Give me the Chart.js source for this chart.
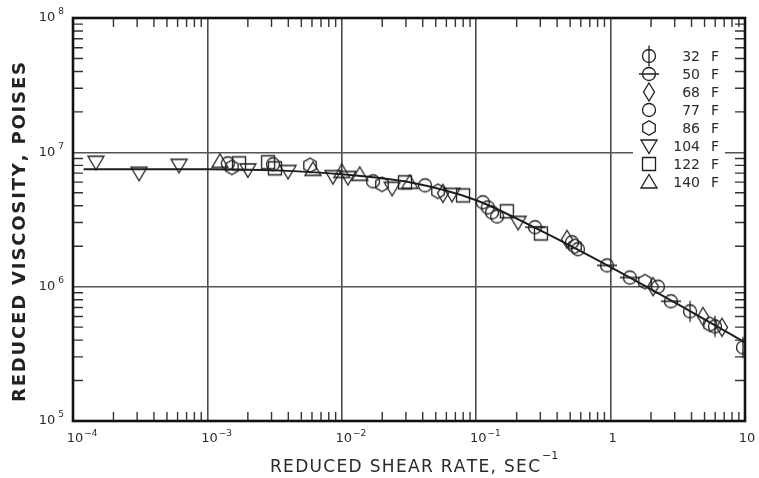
<!DOCTYPE html>
<html>
<head>
<meta charset="utf-8">
<script src="https://cdn.jsdelivr.net/npm/chart.js@4.4.1/dist/chart.umd.min.js"></script>
<style>
  html, body { margin: 0; padding: 0; background: #fff; }
  #wrap { width: 759px; height: 478px; }
</style>
</head>
<body>
<div id="wrap"><canvas id="viscChart" width="759" height="478"></canvas></div>
<script>
// Reduced shear rate (1/sec) and reduced viscosity (poises) for each test temperature (F)
const temps = ['32', '50', '68', '77', '86', '104', '122', '140'];

const rate32 = [3.9, 5.98, 9.66];
const visc32 = [6.55e5, 5.06e5, 3.53e5];

const rate50 = [0.274, 0.94, 1.39, 2.81];
const visc50 = [2.77e6, 1.44e6, 1.17e6, 7.78e5];

const rate68 = [0.0566, 0.474, 2.07, 4.87, 6.74];
const visc68 = [4.95e6, 2.25e6, 1.0e6, 6.0e5, 4.98e5];

const rate77 = [1.42e-3, 3.08e-3, 1.71e-2, 4.16e-2, 0.112, 0.122, 0.131, 0.143, 0.516, 0.571, 2.25];
const visc77 = [8.28e6, 8.15e6, 6.08e6, 5.68e6, 4.25e6, 3.89e6, 3.57e6, 3.33e6, 2.14e6, 1.9e6, 1.0e6];

const rate86 = [1.52e-3, 5.8e-3, 1.99e-2, 5.2e-2, 0.543, 1.8, 5.5];
const visc86 = [7.73e6, 8.0e6, 5.78e6, 5.13e6, 2.0e6, 1.09e6, 5.24e5];

const rate104 = [1.48e-4, 3.1e-4, 6.15e-4, 2.0e-3, 3.98e-3, 8.6e-3, 1.11e-2, 2.37e-2, 6.6e-2, 0.205];
const visc104 = [8.43e6, 6.98e6, 8.0e6, 7.4e6, 7.2e6, 6.6e6, 6.5e6, 5.4e6, 4.86e6, 3.01e6];

const rate122 = [1.72e-3, 2.83e-3, 3.18e-3, 2.95e-2, 7.98e-2, 0.169, 0.303];
const visc122 = [8.28e6, 8.43e6, 7.6e6, 5.98e6, 4.78e6, 3.64e6, 2.49e6];

const rate140 = [1.24e-3, 6.1e-3, 1.0e-2, 1.36e-2, 3.2e-2];
const visc140 = [8.57e6, 7.47e6, 7.2e6, 6.86e6, 5.98e6];

// master curve drawn through the points
const fitRate = [1.2e-4, 1e-3, 3.2e-3, 1e-2, 3.2e-2, 0.1, 0.31, 1.04, 3.28, 10];
const fitVisc = [7.47e6, 7.47e6, 7.34e6, 6.86e6, 5.98e6, 4.4e6, 2.58e6, 1.37e6, 7.26e5, 3.85e5];

// decade ticks and their labels as [base, exponent]
const xTickVals = [1e-4, 1e-3, 1e-2, 1e-1, 1, 10];
const xTickLabels = [['10', '\u22124'], ['10', '\u22123'], ['10', '\u22122'], ['10', '\u22121'], ['1', ''], ['10', '']];
const yTickVals = [1e5, 1e6, 1e7, 1e8];
const yTickLabels = [['10', '5'], ['10', '6'], ['10', '7'], ['10', '8']];

const INK = '#1e1e1e';
const FONT = '"DejaVu Sans", "Liberation Sans", sans-serif';

// open marker symbols drawn onto small canvases
function makeMarker(kind) {
  const c = document.createElement('canvas');
  c.width = 24; c.height = 24;
  const g = c.getContext('2d');
  g.strokeStyle = INK;
  g.lineWidth = 1.3;
  g.translate(12, 12);
  g.beginPath();
  if (kind === 'circleV' || kind === 'circleH' || kind === 'circle') {
    g.arc(0, 0, 6.5, 0, Math.PI * 2);
    if (kind === 'circleV') { g.moveTo(0, -10.5); g.lineTo(0, 10.5); }
    if (kind === 'circleH') { g.moveTo(-10, 0); g.lineTo(10, 0); }
  } else if (kind === 'diamond') {
    g.moveTo(0, -9); g.lineTo(5.5, 0); g.lineTo(0, 9); g.lineTo(-5.5, 0); g.closePath();
  } else if (kind === 'hexagon') {
    for (let i = 0; i < 6; i++) {
      const a = Math.PI / 2 + i * Math.PI / 3;
      const px = 7.2 * Math.cos(a), py = 7.2 * Math.sin(a);
      if (i === 0) g.moveTo(px, py); else g.lineTo(px, py);
    }
    g.closePath();
  } else if (kind === 'triDown') {
    g.moveTo(-8, -6); g.lineTo(8, -6); g.lineTo(0, 7.5); g.closePath();
  } else if (kind === 'square') {
    g.rect(-6.5, -6.5, 13, 13);
  } else if (kind === 'triUp') {
    g.moveTo(0, -7.5); g.lineTo(8, 6); g.lineTo(-8, 6); g.closePath();
  }
  g.stroke();
  return c;
}

const markerKinds = ['circleV', 'circleH', 'diamond', 'circle', 'hexagon', 'triDown', 'square', 'triUp'];
const markers = markerKinds.map(makeMarker);

const series = [
  [rate32, visc32], [rate50, visc50], [rate68, visc68], [rate77, visc77],
  [rate86, visc86], [rate104, visc104], [rate122, visc122], [rate140, visc140]
];

const datasets = series.map(([xs, ys], i) => ({
  label: temps[i] + ' F',
  data: xs.map((x, j) => ({ x: x, y: ys[j] })),
  pointStyle: markers[i],
  pointRadius: 8,
  pointHoverRadius: 8,
  showLine: false
}));

datasets.push({
  label: 'master curve',
  data: fitRate.map((x, j) => ({ x: x, y: fitVisc[j] })),
  showLine: true,
  borderColor: INK,
  borderWidth: 2,
  pointRadius: 0,
  tension: 0.3
});

// text drawn with even spacing between letters
function drawSpaced(ctx, text, x, y, width) {
  const chars = [...text];
  const widths = chars.map(ch => ctx.measureText(ch).width);
  const total = widths.reduce((a, b) => a + b, 0);
  const gap = (width - total) / (chars.length - 1);
  let cx = x;
  chars.forEach((ch, i) => {
    ctx.fillText(ch, cx, y);
    cx += widths[i] + gap;
  });
}

const paperPlot = {
  id: 'paperPlot',
  afterDraw(chart) {
    const ctx = chart.ctx;
    const area = chart.chartArea;
    const xs = chart.scales.x, ys = chart.scales.y;
    ctx.save();

    // minor ticks on all four sides, pointing inward
    ctx.strokeStyle = '#333';
    ctx.lineWidth = 1.4;
    ctx.beginPath();
    const factors = [2, 3, 4, 5, 6, 7, 8, 9];
    xTickVals.slice(0, -1).forEach(d => {
      factors.forEach(k => {
        const px = xs.getPixelForValue(d * k);
        ctx.moveTo(px, area.bottom); ctx.lineTo(px, area.bottom - 9);
        ctx.moveTo(px, area.top); ctx.lineTo(px, area.top + 9);
      });
    });
    yTickVals.slice(0, -1).forEach(d => {
      factors.forEach(k => {
        const py = ys.getPixelForValue(d * k);
        ctx.moveTo(area.left, py); ctx.lineTo(area.left + 10, py);
        ctx.moveTo(area.right, py); ctx.lineTo(area.right - 10, py);
      });
    });
    ctx.stroke();

    // frame
    ctx.strokeStyle = '#111';
    ctx.lineWidth = 2.6;
    ctx.strokeRect(area.left, area.top, area.right - area.left, area.bottom - area.top);

    // tick labels
    ctx.fillStyle = '#2a2a2a';
    ctx.textBaseline = 'middle';
    xTickVals.forEach((v, i) => {
      const [base, exp] = xTickLabels[i];
      const px = xs.getPixelForValue(v);
      ctx.font = '13px ' + FONT;
      const bw = ctx.measureText(base).width;
      ctx.textAlign = 'left';
      ctx.fillText(base, px - bw / 2 + 2, area.bottom + 18);
      if (exp) {
        ctx.font = '9px ' + FONT;
        ctx.fillText(exp, px + bw / 2 + 3, area.bottom + 13);
      }
    });
    yTickVals.forEach((v, i) => {
      const [base, exp] = yTickLabels[i];
      const py = ys.getPixelForValue(v);
      ctx.font = '9px ' + FONT;
      const ew = ctx.measureText(exp).width;
      ctx.textAlign = 'right';
      ctx.fillText(exp, area.left - 9, py - 6);
      ctx.font = '13px ' + FONT;
      ctx.fillText(base, area.left - 12 - ew, py);
    });

    // axis titles
    ctx.textAlign = 'left';
    ctx.font = '17px ' + FONT;
    ctx.fillStyle = '#2a2a2a';
    drawSpaced(ctx, 'REDUCED SHEAR RATE, SEC', 270, 468, 270);
    ctx.font = '11px ' + FONT;
    ctx.fillText('\u22121', 542, 456);

    ctx.save();
    ctx.translate(20, 402);
    ctx.rotate(-Math.PI / 2);
    ctx.font = 'bold 18px ' + FONT;
    ctx.fillStyle = '#222';
    drawSpaced(ctx, 'REDUCED VISCOSITY, POISES', 0, 0, 340);
    ctx.restore();

    // legend box over the grid
    ctx.fillStyle = '#fff';
    ctx.fillRect(633, 42, 92, 150);
    ctx.font = '14px ' + FONT;
    ctx.fillStyle = '#2a2a2a';
    temps.forEach((t, i) => {
      const y = 56 + i * 18;
      ctx.drawImage(markers[i], 649 - 12, y - 12);
      ctx.textAlign = 'right';
      ctx.fillText(t, 700, y + 1);
      ctx.textAlign = 'left';
      ctx.fillText('F', 711, y + 1);
    });
    ctx.restore();
  }
};

new Chart(document.getElementById('viscChart'), {
  type: 'scatter',
  data: { datasets: datasets },
  options: {
    responsive: false,
    animation: false,
    layout: { padding: { top: 18, right: 14, left: 0, bottom: 0 } },
    plugins: { legend: { display: false }, tooltip: { enabled: false } },
    scales: {
      x: {
        type: 'logarithmic',
        min: 1e-4,
        max: 10,
        afterBuildTicks: s => { s.ticks = xTickVals.map(v => ({ value: v })); },
        afterFit: s => { s.height = 57; },
        grid: { color: '#4a4a4a', lineWidth: 1.6, drawTicks: false },
        border: { display: false },
        ticks: { display: false }
      },
      y: {
        type: 'logarithmic',
        min: 1e5,
        max: 1e8,
        afterBuildTicks: s => { s.ticks = yTickVals.map(v => ({ value: v })); },
        afterFit: s => { s.width = 73; },
        grid: { color: '#555', lineWidth: 1.4, drawTicks: false },
        border: { display: false },
        ticks: { display: false }
      }
    }
  },
  plugins: [paperPlot]
});
</script>
</body>
</html>
